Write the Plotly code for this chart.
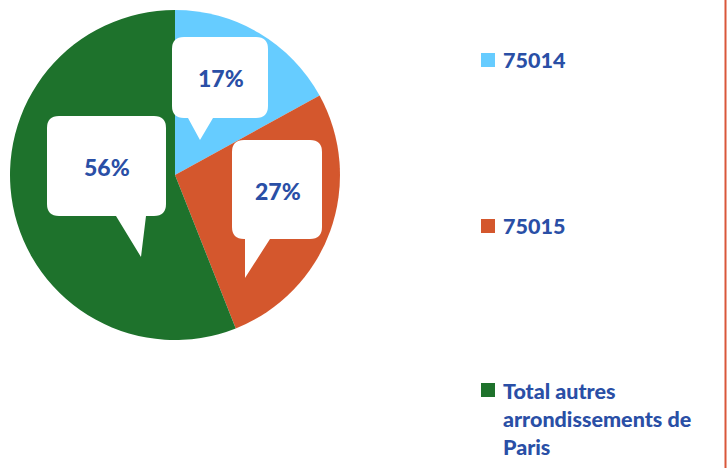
import plotly.graph_objects as go

# ---- data ----
labels = ["75014", "75015", "Total autres arrondissements de Paris"]
legend_text = ["75014", "75015", "Total autres<br>arrondissements de<br>Paris"]
values = [17, 27, 56]
colors = ["#66CCFF", "#D4572D", "#1E722C"]

# ---- layout constants (pixels) ----
W, H = 727, 468
TXT = "#2A4FA6"
FONT = "Lato"

def px(x):
    return x / W

def py(y):
    return 1 - y / H

# callout boxes: (x0, y0, x1, y1, tail_left, tail_right, tip_x, tip_y)
callouts = [
    (172, 37, 268, 118, 188, 213, 200, 140),
    (232, 140, 322, 239, 245, 270, 245, 278),
    (47, 116, 166, 216, 116, 146, 141, 257),
]

fig = go.Figure()
fig.add_trace(go.Pie(
    labels=labels, values=values, sort=False, direction="clockwise", rotation=0,
    marker=dict(colors=colors, line=dict(width=0)),
    textinfo="none", showlegend=False, hoverinfo="label+percent",
    domain=dict(x=[px(10), px(340)], y=[py(340), py(10)]),
))

shapes = []
annotations = []
total = sum(values)
r = 12
for v, (x0, y0, x1, y1, tl, tr, tx, ty) in zip(values, callouts):
    def P(x, y):
        return f"{px(x):.5f},{py(y):.5f}"
    path = (f"M {P(x0+r, y0)} L {P(x1-r, y0)} Q {P(x1, y0)} {P(x1, y0+r)} "
            f"L {P(x1, y1-r)} Q {P(x1, y1)} {P(x1-r, y1)} L {P(tr, y1)} L {P(tx, ty)} "
            f"L {P(tl, y1)} L {P(x0+r, y1)} Q {P(x0, y1)} {P(x0, y1-r)} "
            f"L {P(x0, y0+r)} Q {P(x0, y0)} {P(x0+r, y0)} Z")
    shapes.append(dict(type="path", path=path, xref="paper", yref="paper",
                       fillcolor="white", line=dict(width=0)))
    annotations.append(dict(x=px((x0 + x1) / 2 + 0.5), y=py((y0 + y1) / 2 + 1), xref="paper", yref="paper",
                            xanchor="center", yanchor="middle",
                            text=f"{round(100 * v / total)}%", showarrow=False,
                            font=dict(family=FONT, size=23, color=TXT, weight=900)))

# manual legend
legend_y = [60, 226, 390]
for c, t, ly in zip(colors, legend_text, legend_y):
    shapes.append(dict(type="rect", xref="paper", yref="paper",
                       x0=px(481), x1=px(495), y0=py(ly - 7), y1=py(ly + 7),
                       fillcolor=c, line=dict(width=0)))
    annotations.append(dict(x=px(501), y=py(ly - 14.5), xref="paper", yref="paper",
                            xanchor="left", yanchor="top", align="left",
                            text=t, showarrow=False,
                            font=dict(family=FONT, size=21.5, color=TXT, weight=900)))

# right border line
shapes.append(dict(type="line", xref="paper", yref="paper", x0=px(725.5), x1=px(725.5),
                   y0=0, y1=1, line=dict(color="#D9573A", width=2)))

fig.update_layout(width=W, height=H, margin=dict(l=0, r=0, t=0, b=0),
                  paper_bgcolor="white", plot_bgcolor="white",
                  shapes=shapes, annotations=annotations, showlegend=False)

fig.write_html("out.html", config={"displayModeBar": False},
               post_script="document.body.style.margin='0';document.body.style.overflow='hidden';")
